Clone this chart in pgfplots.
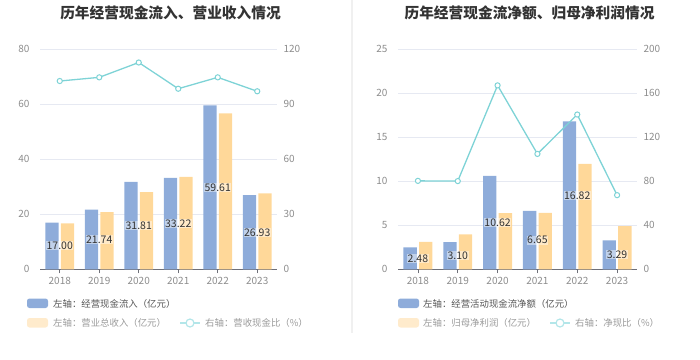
\documentclass[border=0pt]{standalone}
\usepackage{pgfplots}
\pgfplotsset{compat=1.18}
\usepackage{fontspec}
\setmainfont{Noto Sans CJK SC}
\definecolor{barblue}{HTML}{8EACDA}
\definecolor{baryel}{HTML}{FFD899}
\definecolor{lineteal}{HTML}{7ED3D6}
\definecolor{gridc}{HTML}{E6E9F2}
\definecolor{tickc}{HTML}{8C8C8C}
\definecolor{axisc}{HTML}{6E7079}
\definecolor{titlec}{HTML}{333333}
\definecolor{sepc}{HTML}{F0F0F0}
\definecolor{legdark}{HTML}{555555}
\definecolor{leglight}{HTML}{9A9A9A}
\definecolor{legyel}{HTML}{FFEBCC}
\definecolor{legteal}{HTML}{B3E6E9}

\pgfplotsset{
  common/.style={scale only axis, anchor=south west, xmin=-0.5, xmax=5.5, ymin=0,
    tick label style={font=\fontsize{10}{12}\selectfont, color=tickc},
    /pgf/number format/assume math mode=true,
    axis line style={-}},
  leftax/.style={common, xtick={0,...,5}, xticklabels={2018,2019,2020,2021,2022,2023},
    ymajorgrids, grid style={gridc, line width=0.8pt},
    axis x line*=bottom, axis y line*=left,
    y axis line style={draw=none}, ytick style={draw=none},
    x axis line style={axisc, line width=0.8pt},
    xtick style={axisc, line width=0.8pt}, tick align=outside, major tick length=4pt,
    yticklabel style={xshift=-3pt}},
  rightax/.style={common, axis y line*=right, axis x line=none,
    y axis line style={draw=none}, ytick style={draw=none},
    yticklabel style={xshift=3pt}},
  bluebars/.style={ybar, bar width=13.3pt, bar shift=-7.8pt, fill=barblue, draw=none,
    nodes near coords={\pgfmathprintnumber[fixed,fixed zerofill,precision=2]{\pgfplotspointmeta}},
    visualization depends on={rawy \as \rawy},
    every node near coord/.append style={anchor=center, yshift={-0.5*\rawy*#1},
      font=\fontsize{10.5}{12}\selectfont, text=titlec, fill=white, fill opacity=0.45,
      text opacity=1, inner sep=0.6pt}},
  yelbars/.style={ybar, bar width=13.3pt, bar shift=7.8pt, fill=baryel, draw=none},
  ratioline/.style={lineteal, line width=1.3pt, mark=*, mark size=2.6pt,
    mark options={fill=white, draw=lineteal, line width=1pt}},
}

\begin{document}
\begin{tikzpicture}
\path[use as bounding box] (0pt,0pt) rectangle (700pt,359pt);
\draw[sepc, line width=1.5pt] (352pt,359pt) -- (352pt,26pt);

% ---------- left panel ----------
\node[font=\fontsize{14.7}{16}\selectfont\bfseries, text=titlec] at (170.5pt,346pt) {历年经营现金流入、营业收入情况};
\begin{axis}[leftax, at={(40pt,89.7pt)}, width=237pt, height=220pt, ymax=80, ytick={0,20,...,80}]
\addplot[yelbars] coordinates {(0,16.7) (1,20.8) (2,28.1) (3,33.6) (4,56.7) (5,27.6)};
\addplot[bluebars=2.75] coordinates {(0,17.00) (1,21.74) (2,31.81) (3,33.22) (4,59.61) (5,26.93)};
\end{axis}
\begin{axis}[rightax, at={(40pt,89.7pt)}, width=237pt, height=220pt, ymax=120, ytick={0,30,...,120}]
\addplot[ratioline] coordinates {(0,102.7) (1,104.7) (2,112.8) (3,98.5) (4,104.7) (5,97.1)};
\end{axis}
\fill[barblue, rounded corners=2.5pt] (27pt,51pt) rectangle (48pt,60.5pt);
\node[anchor=west, font=\fontsize{9.4}{11}\selectfont, text=legdark, inner sep=0pt] at (53pt,55.5pt) {左轴：经营现金流入（亿元）};
\fill[legyel, rounded corners=2.5pt] (27pt,31.5pt) rectangle (48pt,41pt);
\node[anchor=west, font=\fontsize{9.4}{11}\selectfont, text=leglight, inner sep=0pt] at (53pt,36pt) {左轴：营业总收入（亿元）};
\draw[legteal, line width=1.2pt] (180pt,36pt) -- (200pt,36pt);
\draw[legteal, line width=1.2pt, fill=white] (190pt,36pt) circle (4pt);
\node[anchor=west, font=\fontsize{9.4}{11}\selectfont, text=leglight, inner sep=0pt] at (205pt,36pt) {右轴：营收现金比（\%）};

% ---------- right panel ----------
\node[font=\fontsize{14.7}{16}\selectfont\bfseries, text=titlec] at (529.5pt,346pt) {历年经营现金流净额、归母净利润情况};
\begin{axis}[leftax, at={(398pt,89.7pt)}, width=239pt, height=220pt, ymax=25, ytick={0,5,...,25}]
\addplot[yelbars] coordinates {(0,3.13) (1,3.97) (2,6.39) (3,6.40) (4,11.98) (5,4.91)};
\addplot[bluebars=8.8] coordinates {(0,2.48) (1,3.10) (2,10.62) (3,6.65) (4,16.82) (5,3.29)};
\end{axis}
\begin{axis}[rightax, at={(398pt,89.7pt)}, width=239pt, height=220pt, ymax=200, ytick={0,40,...,200}]
\addplot[ratioline] coordinates {(0,80.4) (1,80.2) (2,167.2) (3,104.9) (4,140.7) (5,67.4)};
\end{axis}
\fill[barblue, rounded corners=2.5pt] (398pt,51pt) rectangle (419pt,60.5pt);
\node[anchor=west, font=\fontsize{9.4}{11}\selectfont, text=legdark, inner sep=0pt] at (423pt,55.5pt) {左轴：经营活动现金流净额（亿元）};
\fill[legyel, rounded corners=2.5pt] (398pt,31.5pt) rectangle (419pt,41pt);
\node[anchor=west, font=\fontsize{9.4}{11}\selectfont, text=leglight, inner sep=0pt] at (423pt,36pt) {左轴：归母净利润（亿元）};
\draw[legteal, line width=1.2pt] (550pt,36pt) -- (570pt,36pt);
\draw[legteal, line width=1.2pt, fill=white] (560pt,36pt) circle (4pt);
\node[anchor=west, font=\fontsize{9.4}{11}\selectfont, text=leglight, inner sep=0pt] at (575pt,36pt) {右轴：净现比（\%）};
\end{tikzpicture}
\end{document}
